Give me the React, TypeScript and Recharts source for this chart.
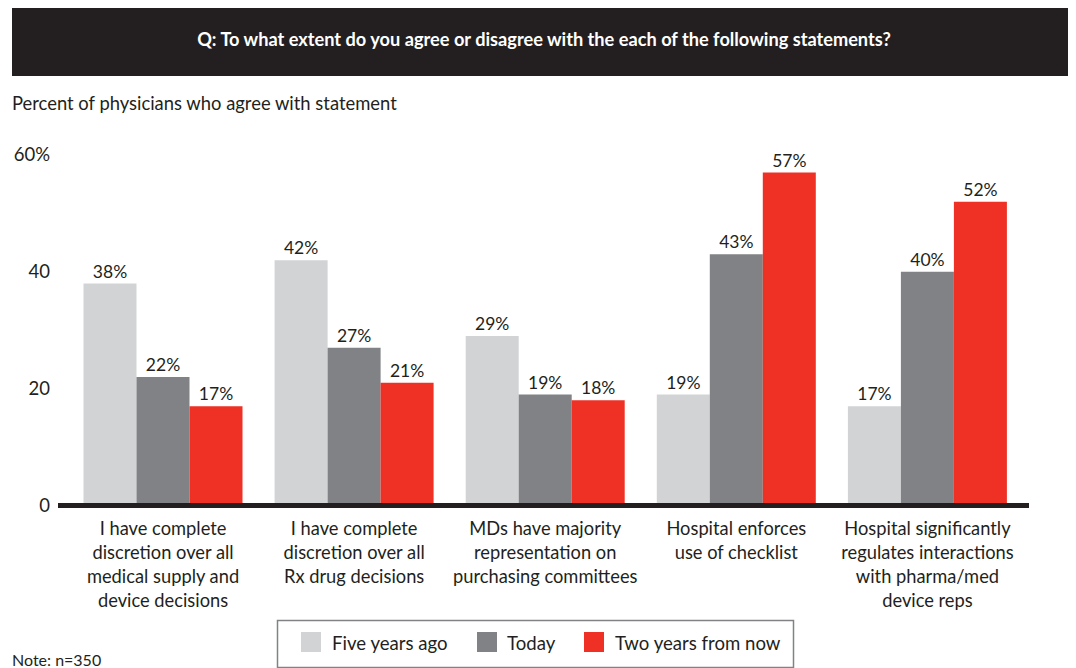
import React from "react";
import { BarChart, Bar, XAxis, YAxis, LabelList, ReferenceLine } from "recharts";

const categories = ["c1", "c2", "c3", "c4", "c5"];
const categoryLines: string[][] = [
  ["I have complete", "discretion over all", "medical supply and", "device decisions"],
  ["I have complete", "discretion over all", "Rx drug decisions"],
  ["MDs have majority", "representation on", "purchasing committees"],
  ["Hospital enforces", "use of checklist"],
  ["Hospital significantly", "regulates interactions", "with pharma/med", "device reps"],
];
const fiveYearsAgo = [38, 42, 29, 19, 17];
const today = [22, 27, 19, 43, 40];
const twoYearsFromNow = [17, 21, 18, 57, 52];
const yTicks = [0, 20, 40, 60];
const yTickLabels = ["0", "20", "40", "60%"];
const seriesNames = ["Five years ago", "Today", "Two years from now"];
const seriesColors = ["#d1d3d4", "#808285", "#ee3124"];

const data = categories.map((c, i) => ({
  cat: c,
  five: fiveYearsAgo[i],
  today: today[i],
  two: twoYearsFromNow[i],
}));

const FONT = "Lato, 'DejaVu Sans', sans-serif";
const TEXT = "#231f20";

const XTick = (props: any) => {
  const { x, y, payload } = props;
  const idx = categories.indexOf(payload.value);
  const lines = categoryLines[idx] || [];
  return (
    <text x={x} y={y + 21.5} textAnchor="middle" fill={TEXT} fontSize={18.3} fontFamily={FONT}>
      {lines.map((l, i) => (
        <tspan key={i} x={x} dy={i === 0 ? 0 : 24}>
          {l}
        </tspan>
      ))}
    </text>
  );
};

const YTick = (props: any) => {
  const { x, y, payload } = props;
  const idx = yTicks.indexOf(payload.value);
  return (
    <text x={x} y={y} dy="0.35em" textAnchor="end" fill={TEXT} fontSize={18.5} fontFamily={FONT}>
      {yTickLabels[idx]}
    </text>
  );
};

export default function App() {
  const keys = ["five", "today", "two"];
  return (
    <div style={{ position: "relative", width: 1060, height: 660 }}>
      <div style={{ position: "absolute", left: -8, top: -8, width: 1076, height: 668 }}>
        <BarChart
          width={1076}
          height={668}
          data={data}
          margin={{ top: 155, right: 47, bottom: 12.5, left: 0 }}
          barGap={0}
        >
          <XAxis
            dataKey="cat"
            axisLine={false}
            tickLine={false}
            height={150}
            padding={{ left: 9.5, right: 6 }}
            tick={<XTick />}
            interval={0}
          />
          <YAxis
            width={58}
            domain={[0, 60]}
            ticks={yTicks}
            axisLine={false}
            tickLine={false}
            tick={<YTick />}
          />
          {keys.map((k, i) => (
            <Bar key={k} dataKey={k} fill={seriesColors[i]} barSize={53} isAnimationActive={false}>
              <LabelList
                dataKey={k}
                position="top"
                offset={6}
                formatter={(v: any) => `${v}%`}
                fill={TEXT}
                fontSize={17.5}
                fontFamily={FONT}
              />
            </Bar>
          ))}
          <ReferenceLine y={0} stroke={TEXT} strokeWidth={5} ifOverflow="visible" />
        </BarChart>
      </div>
      <svg
        style={{ position: "absolute", left: -8, top: -8, pointerEvents: "none" }}
        width={1076}
        height={668}
      >
        <rect x={12} y={4} width={1064} height={72} fill={TEXT} />
        <text x={544} y={46} textAnchor="middle" fill="#ffffff" fontSize={18.2} fontWeight={700} fontFamily={FONT}>
          Q: To what extent do you agree or disagree with the each of the following statements?
        </text>
        <text x={12} y={110} fill={TEXT} fontSize={18.4} fontFamily={FONT}>
          Percent of physicians who agree with statement
        </text>
        <rect x={277.5} y={620.5} width={516} height={47} fill="#ffffff" stroke="#808285" strokeWidth={1.5} />
        {[301, 477, 584].map((sx, i) => (
          <rect key={i} x={sx} y={632} width={20} height={20} fill={seriesColors[i]} />
        ))}
        {[332, 507, 615].map((tx, i) => (
          <text key={i} x={tx} y={650} fill={TEXT} fontSize={18.6} fontFamily={FONT}>
            {seriesNames[i]}
          </text>
        ))}
        <text x={12} y={666} fill={TEXT} fontSize={16} fontFamily={FONT}>
          Note: n=350
        </text>
      </svg>
    </div>
  );
}
